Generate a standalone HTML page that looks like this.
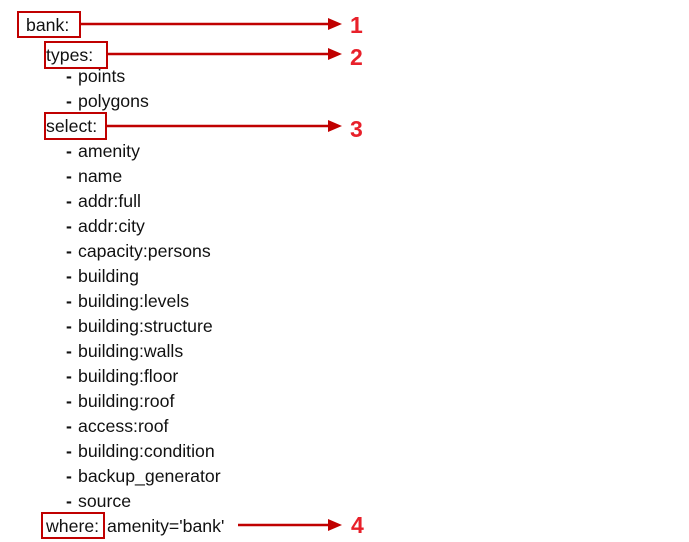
<!DOCTYPE html><html><head><style>
body{margin:0;width:689px;height:542px;background:#fff;position:relative;font-family:"Liberation Sans",sans-serif;font-size:17.7px;color:#111;}
.t{position:absolute;line-height:20px;white-space:pre;}
.t b{display:inline-block;width:12px;font-weight:900;}
.b{position:absolute;border:2px solid #c00000;box-sizing:border-box;}
.n{position:absolute;color:#e8202a;font-weight:bold;font-size:23px;line-height:24px;}
</style></head><body>
<div class="t" style="left:26px;top:15px">bank:</div>
<div class="t" style="left:46px;top:45px">types:</div>
<div class="t" style="left:66px;top:66px"><b>-</b>points</div>
<div class="t" style="left:66px;top:91px"><b>-</b>polygons</div>
<div class="t" style="left:46px;top:116px">select:</div>
<div class="t" style="left:66px;top:141px"><b>-</b>amenity</div>
<div class="t" style="left:66px;top:166px"><b>-</b>name</div>
<div class="t" style="left:66px;top:191px"><b>-</b>addr:full</div>
<div class="t" style="left:66px;top:216px"><b>-</b>addr:city</div>
<div class="t" style="left:66px;top:241px"><b>-</b>capacity:persons</div>
<div class="t" style="left:66px;top:266px"><b>-</b>building</div>
<div class="t" style="left:66px;top:291px"><b>-</b>building:levels</div>
<div class="t" style="left:66px;top:316px"><b>-</b>building:structure</div>
<div class="t" style="left:66px;top:341px"><b>-</b>building:walls</div>
<div class="t" style="left:66px;top:366px"><b>-</b>building:floor</div>
<div class="t" style="left:66px;top:391px"><b>-</b>building:roof</div>
<div class="t" style="left:66px;top:416px"><b>-</b>access:roof</div>
<div class="t" style="left:66px;top:441px"><b>-</b>building:condition</div>
<div class="t" style="left:66px;top:466px"><b>-</b>backup_generator</div>
<div class="t" style="left:66px;top:491px"><b>-</b>source</div>
<div class="t" style="left:46px;top:516px">where:</div>
<div class="t" style="left:107px;top:516px">amenity='bank'</div>
<div class="b" style="left:17px;top:11px;width:64px;height:27px"></div>
<div class="b" style="left:44px;top:41px;width:64px;height:28px"></div>
<div class="b" style="left:44px;top:112px;width:63px;height:28px"></div>
<div class="b" style="left:41px;top:512px;width:64px;height:27px"></div>
<svg style="position:absolute;left:0;top:0" width="689" height="542">
<g stroke="#c00000" stroke-width="2.5" fill="#c00000">
<line x1="81" y1="24" x2="330" y2="24"/><polygon points="328,18 342,24 328,30" stroke="none"/>
<line x1="108" y1="54" x2="330" y2="54"/><polygon points="328,48 342,54 328,60" stroke="none"/>
<line x1="107" y1="126" x2="330" y2="126"/><polygon points="328,120 342,126 328,132" stroke="none"/>
<line x1="238" y1="525" x2="330" y2="525"/><polygon points="328,519 342,525 328,531" stroke="none"/>
</g></svg>
<div class="n" style="left:350px;top:13px">1</div>
<div class="n" style="left:350px;top:45px">2</div>
<div class="n" style="left:350px;top:117px">3</div>
<div class="n" style="left:351px;top:513px">4</div>
</body></html>
